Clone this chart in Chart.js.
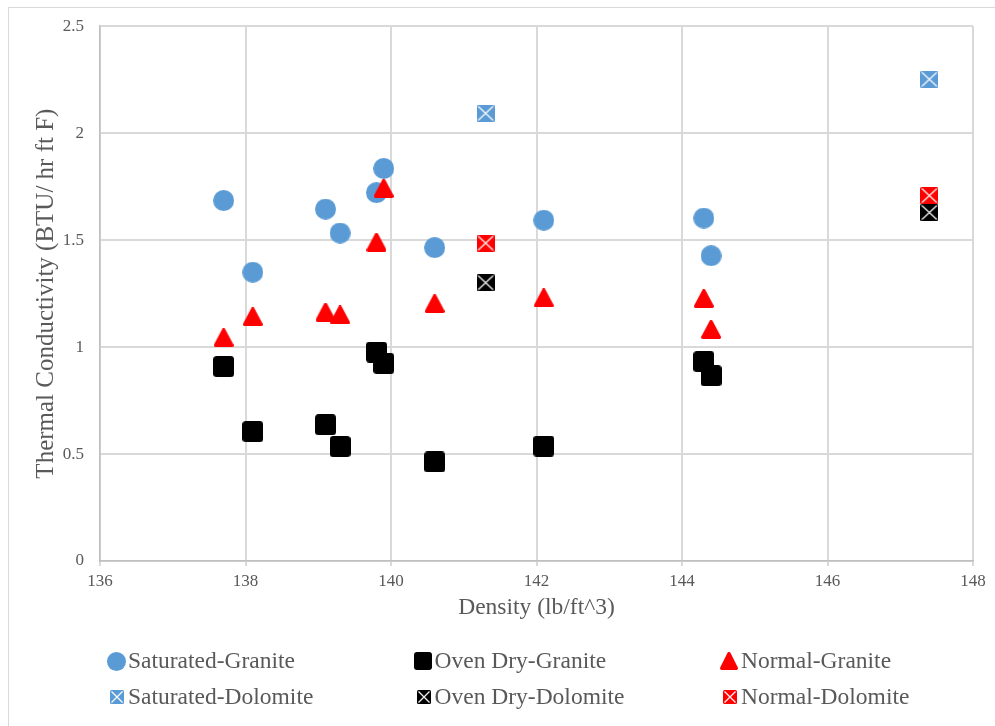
<!DOCTYPE html>
<html>
<head>
<meta charset="utf-8">
<script src="https://cdn.jsdelivr.net/npm/chart.js@4"></script>
<style>
  html, body { margin: 0; padding: 0; background: #fff; overflow: hidden; }
  #frame { position: absolute; left: 8px; top: 7px; width: 1100px; height: 800px; border: 1px solid #d9d9d9; }
  #chart { position: absolute; left: 0; top: 0; }
</style>
</head>
<body>
<div id="frame"></div>
<canvas id="chart" width="995" height="726"></canvas>
<script>
// density (lb/ft^3)
const densityGranite = [137.7, 138.1, 139.1, 139.3, 139.8, 139.9, 140.6, 142.1, 144.3, 144.4];
const densityDolomite = [141.3, 147.4];

// thermal conductivity (BTU/ hr ft F)
const saturatedGranite = [1.685, 1.35, 1.645, 1.533, 1.722, 1.835, 1.465, 1.593, 1.603, 1.427];
const ovenDryGranite = [0.909, 0.605, 0.637, 0.535, 0.977, 0.924, 0.463, 0.537, 0.932, 0.866];
const normalGranite = [1.044, 1.142, 1.163, 1.15, 1.49, 1.742, 1.203, 1.23, 1.227, 1.082];
const saturatedDolomite = [2.093, 2.252];
const ovenDryDolomite = [1.301, 1.629];
const normalDolomite = [1.486, 1.708];

const seriesNames = ['Saturated-Granite', 'Oven Dry-Granite', 'Normal-Granite',
  'Saturated-Dolomite', 'Oven Dry-Dolomite', 'Normal-Dolomite'];

const xTicks = [136, 138, 140, 142, 144, 146, 148];
const yTicks = [0, 0.5, 1, 1.5, 2, 2.5];

const BLUE = '#5b9bd5';
const BLACK = '#000000';
const RED = '#ff0000';
const TEXT = '#595959';
const FONT = '"Liberation Serif", "Times New Roman", serif';

// marker images
function makeCanvas(w, h, draw) {
  const c = document.createElement('canvas');
  c.width = w;
  c.height = h;
  draw(c.getContext('2d'), w, h);
  return c;
}

function roundRect(ctx, x, y, w, h, r) {
  ctx.beginPath();
  ctx.moveTo(x + r, y);
  ctx.arcTo(x + w, y, x + w, y + h, r);
  ctx.arcTo(x + w, y + h, x, y + h, r);
  ctx.arcTo(x, y + h, x, y, r);
  ctx.arcTo(x, y, x + w, y, r);
  ctx.closePath();
}

function circleMarker(d, color) {
  return makeCanvas(d, d, (ctx) => {
    ctx.fillStyle = color;
    ctx.beginPath();
    ctx.arc(d / 2, d / 2, d / 2, 0, Math.PI * 2);
    ctx.fill();
  });
}

function squareMarker(s, r, color) {
  return makeCanvas(s, s, (ctx) => {
    ctx.fillStyle = color;
    roundRect(ctx, 0, 0, s, s, r);
    ctx.fill();
  });
}

function triangleMarker(w, h, color) {
  return makeCanvas(w, h, (ctx) => {
    const lw = 3.5;
    ctx.fillStyle = color;
    ctx.strokeStyle = color;
    ctx.lineWidth = lw;
    ctx.lineJoin = 'round';
    ctx.beginPath();
    ctx.moveTo(w / 2, lw / 2);
    ctx.lineTo(w - lw / 2, h - lw / 2);
    ctx.lineTo(lw / 2, h - lw / 2);
    ctx.closePath();
    ctx.fill();
    ctx.stroke();
  });
}

function crossMarker(w, h, color) {
  return makeCanvas(w, h, (ctx) => {
    ctx.fillStyle = color;
    roundRect(ctx, 0, 0, w, h, 1.5);
    ctx.fill();
    ctx.strokeStyle = 'rgba(255,255,255,0.95)';
    ctx.lineWidth = 1.3;
    ctx.beginPath();
    ctx.moveTo(1.5, 1.5);
    ctx.lineTo(w - 1.5, h - 1.5);
    ctx.moveTo(w - 1.5, 1.5);
    ctx.lineTo(1.5, h - 1.5);
    ctx.stroke();
  });
}

const chartMarkers = [
  circleMarker(21, BLUE),
  squareMarker(21, 3.5, BLACK),
  triangleMarker(20, 19, RED),
  crossMarker(18, 17, BLUE),
  crossMarker(18, 17, BLACK),
  crossMarker(18, 17, RED)
];

const legendMarkers = [
  circleMarker(19, BLUE),
  squareMarker(18, 3, BLACK),
  triangleMarker(18, 18, RED),
  crossMarker(14, 14, BLUE),
  crossMarker(14, 14, BLACK),
  crossMarker(14, 14, RED)
];

function toPoints(xs, ys) {
  return xs.map((x, i) => ({ x: x, y: ys[i] }));
}

const seriesData = [
  toPoints(densityGranite, saturatedGranite),
  toPoints(densityGranite, ovenDryGranite),
  toPoints(densityGranite, normalGranite),
  toPoints(densityDolomite, saturatedDolomite),
  toPoints(densityDolomite, ovenDryDolomite),
  toPoints(densityDolomite, normalDolomite)
];

const datasets = seriesNames.map((name, i) => ({
  label: name,
  data: seriesData[i],
  pointStyle: chartMarkers[i],
  pointRadius: 10,
  pointHoverRadius: 10,
  order: seriesNames.length - i
}));

// legend in three columns, two rows, drawn under the axis title
const gridLegend = {
  id: 'gridLegend',
  afterDraw(chart) {
    const ctx = chart.ctx;
    const colX = [107, 413.5, 720];
    const rowY = [661, 697];
    ctx.save();
    ctx.font = '23.5px ' + FONT;
    ctx.fillStyle = TEXT;
    ctx.textBaseline = 'middle';
    ctx.textAlign = 'left';
    chart.data.datasets.forEach((ds, i) => {
      const x = colX[i % 3];
      const y = rowY[Math.floor(i / 3)];
      const m = legendMarkers[i];
      const mx = i < 3 ? x : x + 3;
      ctx.drawImage(m, Math.round(mx), Math.round(y - m.height / 2));
      ctx.fillText(ds.label, x + 21, y + 1);
    });
    ctx.restore();
  }
};

new Chart(document.getElementById('chart'), {
  type: 'scatter',
  data: { datasets: datasets },
  options: {
    responsive: false,
    animation: false,
    devicePixelRatio: 1,
    layout: { padding: { top: 25, right: 22, bottom: 95, left: 0 } },
    plugins: {
      legend: { display: false },
      tooltip: { enabled: false }
    },
    scales: {
      x: {
        type: 'linear',
        min: 136,
        max: 148,
        afterBuildTicks: (s) => { s.ticks = xTicks.map(v => ({ value: v })); },
        afterFit: (s) => { s.height = 70; },
        grid: { color: '#d9d9d9', lineWidth: 2, drawTicks: true, tickLength: 5, tickColor: '#d9d9d9' },
        border: { color: '#bfbfbf', width: 1.5 },
        ticks: { color: TEXT, font: { family: FONT, size: 17 }, padding: 5, maxRotation: 0, callback: (v) => String(v) },
        title: {
          display: true,
          text: 'Density (lb/ft^3)',
          color: TEXT,
          font: { family: FONT, size: 23.5 },
          padding: { top: 0, bottom: 9 }
        }
      },
      y: {
        type: 'linear',
        min: 0,
        max: 2.5,
        afterBuildTicks: (s) => { s.ticks = yTicks.map(v => ({ value: v })); },
        afterFit: (s) => { s.width = 100; },
        grid: { color: '#d9d9d9', lineWidth: 2, drawTicks: false },
        border: { color: '#bfbfbf', width: 1.5 },
        ticks: { color: TEXT, font: { family: FONT, size: 17 }, padding: 16, callback: (v) => String(v) },
        title: {
          display: true,
          text: 'Thermal Conductivity (BTU/ hr ft F)',
          color: TEXT,
          font: { family: FONT, size: 25 },
          padding: { top: 31, bottom: 0 }
        }
      }
    }
  },
  plugins: [gridLegend]
});
</script>
</body>
</html>
